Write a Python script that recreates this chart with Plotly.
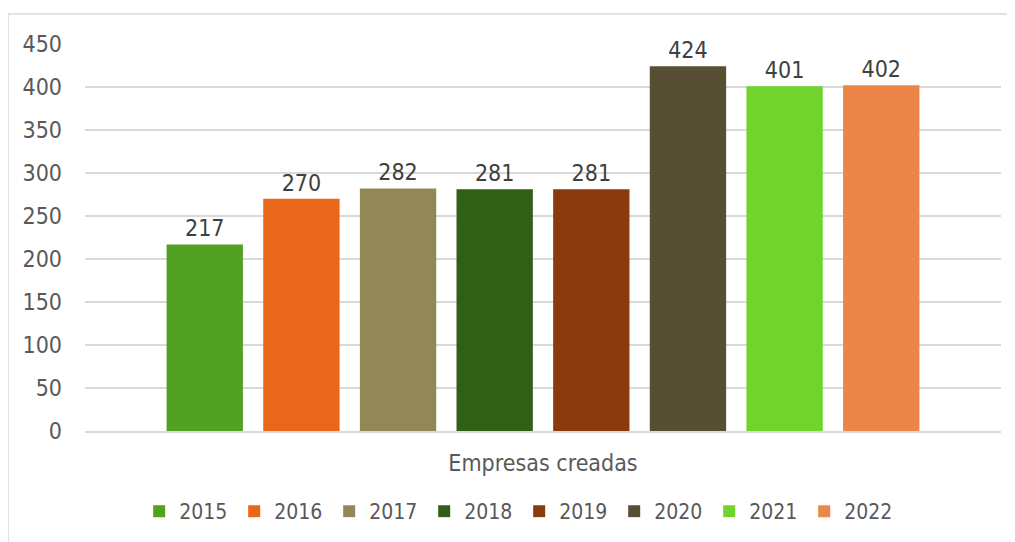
import plotly.graph_objects as go

categoria = ["Empresas creadas"]
anios = ["2015", "2016", "2017", "2018", "2019", "2020", "2021", "2022"]
empresas = [217, 270, 282, 281, 281, 424, 401, 402]
colores = ["#53A122", "#E8671A", "#928756", "#305F16", "#8A3A0E", "#574F33", "#70D42D", "#EC8648"]

FUENTE = "DejaVu Sans Condensed, DejaVu Sans, sans-serif"
GRIS = "#595959"
TAM = 23

fig = go.Figure()
for anio, valor, color in zip(anios, empresas, colores):
    fig.add_trace(go.Bar(
        name=anio,
        x=categoria,
        y=[valor],
        marker=dict(color=color, line=dict(width=0)),
        text=[str(valor)],
        textposition="outside",
        textfont=dict(family=FUENTE, size=TAM, color="#404040"),
        cliponaxis=False,
    ))

# la pagina deja 8px de margen en el body
fig.update_layout(
    barmode="group",
    bargap=0.156,
    bargroupgap=0.21,
    width=1015,
    height=542,
    margin=dict(l=77, r=22, t=36, b=119, autoexpand=False),
    paper_bgcolor="white",
    plot_bgcolor="white",
    font=dict(family=FUENTE, size=TAM, color=GRIS),
    showlegend=True,
    legend=dict(
        orientation="h",
        x=0.474, xanchor="center",
        y=-0.155, yanchor="top",
        font=dict(family=FUENTE, size=21, color=GRIS),
        traceorder="normal",
        itemwidth=30,
        entrywidth=50,
    ),
)

fig.update_yaxes(
    range=[0, 450],
    dtick=50,
    automargin=False,
    showgrid=True,
    gridcolor="#D9D9D9",
    gridwidth=1.5,
    zeroline=False,
    showline=False,
    ticks="",
    ticklabelstandoff=22,
    tickfont=dict(family=FUENTE, size=TAM, color=GRIS),
)
fig.update_xaxes(
    automargin=False,
    showline=True,
    linecolor="#D9D9D9",
    linewidth=2,
    ticks="",
    tickfont=dict(family=FUENTE, size=TAM, color=GRIS),
    ticklabelstandoff=10,
)

# marco del grafico
fig.add_shape(
    type="rect", xref="paper", yref="paper",
    x0=-0.084, x1=1.03, y0=-0.32, y1=1.0775,
    line=dict(color="#D9D9D9", width=1.5),
    layer="below",
)

fig.write_html("out.html")
